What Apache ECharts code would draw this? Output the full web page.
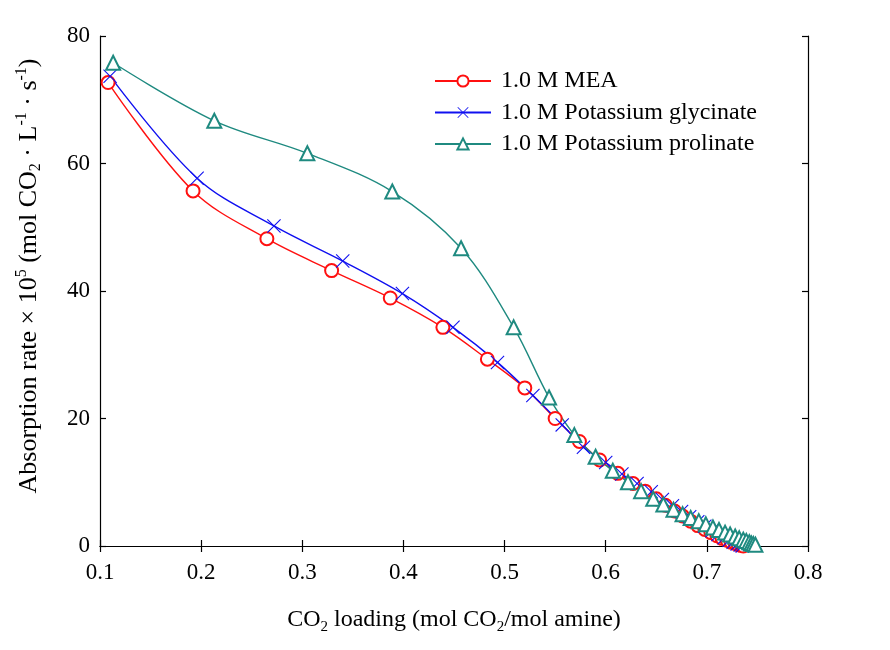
<!DOCTYPE html>
<html><head><meta charset="utf-8">
<script src="https://cdn.jsdelivr.net/npm/echarts@6/dist/echarts.min.js"></script>
<style>html,body{margin:0;padding:0;background:#fff}#c{width:890px;height:650px}</style>
</head><body><div id="c"></div>
<script>
const meaX = [0.108,0.192,0.265,0.329,0.387,0.439,0.483,0.520,0.550,0.574,0.594,0.612,0.627,0.639,0.650,0.659,0.668,0.676,0.684,0.691,0.698,0.704,0.710,0.715,0.720,0.724,0.728,0.731,0.734,0.736];
const meaY = [72.7,55.7,48.2,43.2,38.9,34.3,29.3,24.8,20.0,16.4,13.5,11.4,9.8,8.6,7.4,6.4,5.5,4.7,3.9,3.2,2.6,2.1,1.6,1.2,0.9,0.6,0.4,0.2,0.1,0.0];
const glyX = [0.110,0.196,0.272,0.340,0.399,0.449,0.493,0.528,0.557,0.578,0.600,0.616,0.631,0.645,0.656,0.666,0.675,0.683,0.691,0.698,0.705,0.711,0.717,0.722,0.726,0.730,0.733,0.735];
const glyY = [73.7,57.7,50.2,44.7,39.6,34.3,28.8,23.6,19.0,15.5,13.1,11.3,9.8,8.5,7.3,6.3,5.4,4.6,3.8,3.1,2.4,1.8,1.3,0.9,0.6,0.3,0.15,0.0];
const proX = [0.113,0.213,0.305,0.389,0.457,0.509,0.544,0.569,0.590,0.607,0.622,0.635,0.647,0.657,0.667,0.676,0.684,0.692,0.699,0.706,0.712,0.718,0.723,0.728,0.732,0.736,0.739,0.742,0.744,0.746,0.748];
const proY = [75.8,66.7,61.6,55.6,46.7,34.3,23.3,17.4,14.0,11.8,10.0,8.6,7.4,6.5,5.7,5.0,4.4,3.9,3.4,2.9,2.5,2.1,1.8,1.5,1.2,1.0,0.8,0.6,0.4,0.3,0.2];
const seriesNames = ['1.0 M MEA','1.0 M Potassium glycinate','1.0 M Potassium prolinate'];
const xTicks = [0.1,0.2,0.3,0.4,0.5,0.6,0.7,0.8];
const yTicks = [0,20,40,60,80];

const zip = (a,b)=>a.map((v,i)=>[v,b[i]]);
const FONT = '"Liberation Serif","DejaVu Serif",serif';
const crossPath = 'path://M0,0.55 L0.55,0 L5,4.45 L9.45,0 L10,0.55 L5.55,5 L10,9.45 L9.45,10 L5,5.55 L0.55,10 L0,9.45 L4.45,5 Z';
const colors = ['#ff1010','#1010f0','#1f8a80'];
const mkRich = (fs, ss, lh, off) => ({
  n:{fontFamily:FONT,fontSize:fs,color:'#000',lineHeight:lh},
  sub:{fontFamily:FONT,fontSize:ss,color:'#000',lineHeight:lh,verticalAlign:'bottom',padding:[off,0,0,0]},
  sup:{fontFamily:FONT,fontSize:ss,color:'#000',lineHeight:lh,verticalAlign:'top',padding:[0,0,off,0]}
});
const axisCommon = {
  axisLine:{show:true,lineStyle:{color:'#000',width:1.2}},
  axisTick:{show:true,inside:true,length:6,lineStyle:{color:'#000',width:1.2}},
  splitLine:{show:false}
};
const mk = (name, data, color, symbol, size, bw) => ({
  name, type:'line', data, smooth:0.35, symbol, symbolSize:size, showSymbol:true,
  lineStyle:{color, width:1.4}, itemStyle:{color, borderColor:color, borderWidth:bw},
  emphasis:{disabled:true}, animation:false, z: 3
});
const chart = echarts.init(document.getElementById('c'), null, {renderer:'canvas'});
chart.setOption({
  animation:false,
  backgroundColor:'#fff',
  grid:{left:100,right:82,top:36,bottom:104},
  legend:{
    orient:'vertical', left:434, top:69, padding:0, itemWidth:56, itemHeight:14, itemGap:7.5,
    textStyle:{fontFamily:FONT,fontSize:24,color:'#000',lineHeight:22,padding:[0,0,0,5]},
    data:seriesNames
  },
  xAxis:[{
    type:'value', min:0.1, max:0.8, interval:0.1, position:'bottom', ...axisCommon,
    axisLabel:{fontFamily:FONT,fontSize:23,color:'#000',margin:15,formatter:v=>{const t=xTicks.find(x=>Math.abs(x-v)<1e-6);return t===undefined?'':String(t);}},
    name:'{n|CO}{sub|2}{n| loading (mol CO}{sub|2}{n|/mol amine)}',
    nameLocation:'middle', nameGap:59, nameTextStyle:{rich:mkRich(24,15,30,11)}
  },{
    type:'value', min:0.1, max:0.8, interval:0.1, position:'top', ...axisCommon, axisLabel:{show:false}
  }],
  yAxis:[{
    type:'value', min:0, max:80, interval:20, position:'left', ...axisCommon,
    axisLabel:{fontFamily:FONT,fontSize:23,color:'#000',margin:10,formatter:v=>yTicks.includes(v)?String(v):''},
    name:'{n|Absorption rate × 10}{sup|5}{n| (mol CO}{sub|2}{n| · L}{sup|-1}{n| · s}{sup|-1}{n|)}',
    nameLocation:'middle', nameGap:56, nameRotate:90, nameTextStyle:{rich:mkRich(26,16,30,11), padding:[0,0,0,30]}
  },{
    type:'value', min:0, max:80, interval:20, position:'right', ...axisCommon, axisLabel:{show:false}
  }],
  series:[
    mk(seriesNames[0], zip(meaX,meaY), colors[0], 'emptyCircle', 13, 1.4),
    mk(seriesNames[1], zip(glyX,glyY), colors[1], crossPath, 14, 0),
    mk(seriesNames[2], zip(proX,proY), colors[2], 'emptyTriangle', 14, 1.4)
  ]
});
</script></body></html>
